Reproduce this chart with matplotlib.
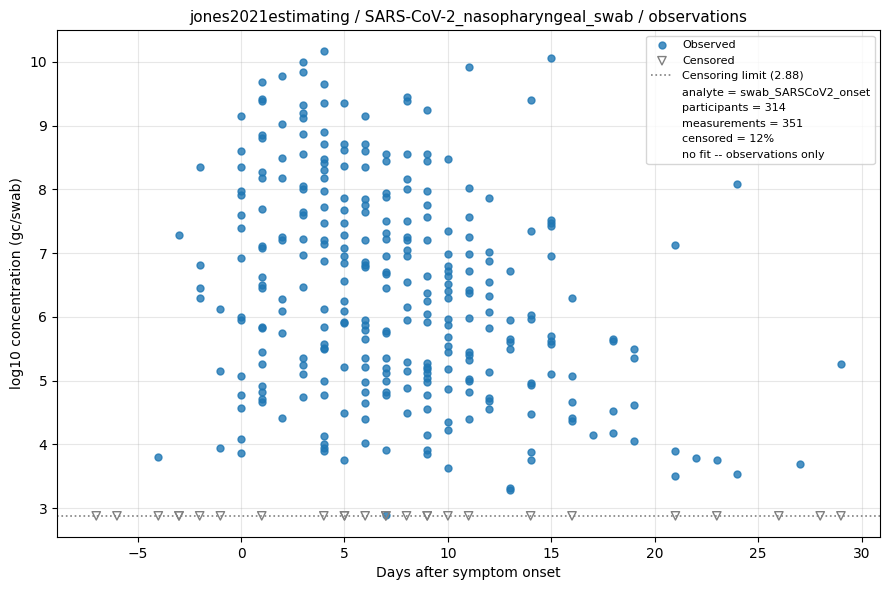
import matplotlib
matplotlib.use("Agg")
import matplotlib.pyplot as plt
from matplotlib.lines import Line2D

obs = {
 -4: [3.8], -3: [7.28], -2: [8.35, 6.82, 6.45, 6.3], -1: [6.12, 5.15, 3.95],
 0: [9.15, 8.6, 8.35, 7.98, 7.92, 7.6, 7.4, 6.92, 6.0, 5.95, 5.08, 4.78, 4.57, 4.08, 3.87],
 1: [9.68, 9.42, 9.38, 8.85, 8.8, 8.27, 8.18, 7.7, 7.12, 7.08, 6.63, 6.5, 6.45, 5.85, 5.82, 5.45, 5.27, 4.92, 4.82, 4.72, 4.67],
 2: [9.78, 9.03, 8.5, 8.18, 7.25, 7.2, 6.28, 6.1, 5.75, 4.42],
 3: [10.0, 9.85, 9.32, 9.2, 9.12, 8.87, 8.55, 8.05, 8.0, 7.65, 7.6, 7.22, 6.97, 6.47, 5.35, 5.25, 5.1, 4.75],
 4: [10.17, 9.65, 9.35, 8.9, 8.72, 8.48, 8.42, 8.3, 8.18, 7.97, 7.72, 7.48, 7.2, 7.15, 6.88, 6.12, 5.85, 5.58, 5.52, 5.5, 5.0, 4.77, 4.13, 4.0, 3.95, 3.9],
 5: [9.35, 8.72, 8.62, 8.37, 7.87, 7.68, 7.48, 7.28, 7.08, 6.95, 6.85, 6.57, 6.25, 6.1, 5.92, 5.9, 5.22, 4.5, 3.75],
 6: [9.15, 8.72, 8.6, 8.35, 7.85, 7.75, 7.65, 7.2, 6.87, 6.82, 6.78, 5.95, 5.88, 5.8, 5.65, 5.35, 5.22, 4.98, 4.82, 4.65, 4.4, 4.03],
 7: [8.55, 8.45, 7.95, 7.88, 7.5, 7.32, 7.22, 6.95, 6.7, 6.67, 6.45, 5.78, 5.75, 5.35, 5.2, 5.12, 5.0, 4.82, 4.77, 3.92, 2.9],
 8: [9.45, 9.38, 8.55, 8.17, 8.0, 7.5, 7.25, 7.2, 7.05, 6.95, 6.55, 6.15, 5.95, 5.3, 5.15, 4.88, 4.5],
 9: [9.25, 8.55, 8.45, 7.97, 7.75, 7.57, 7.2, 6.65, 6.38, 6.25, 6.05, 5.92, 5.28, 5.22, 5.18, 5.12, 5.05, 4.98, 4.78, 4.55, 4.15, 3.92, 3.85],
 10: [8.48, 7.35, 6.98, 6.8, 6.72, 6.65, 6.52, 6.4, 6.3, 5.97, 5.88, 5.68, 5.55, 5.45, 5.18, 4.87, 4.35, 4.22, 3.63],
 11: [9.92, 8.02, 7.57, 7.25, 6.98, 6.72, 6.43, 6.38, 5.98, 5.45, 5.4, 5.32, 5.02, 5.0, 4.83, 4.4],
 12: [7.87, 7.02, 6.88, 6.55, 6.33, 6.08, 5.82, 5.13, 4.73, 4.68, 4.55],
 13: [6.72, 5.95, 5.65, 5.6, 5.5, 3.32, 3.28],
 14: [9.4, 7.35, 6.03, 5.97, 4.97, 4.93, 4.48, 3.88, 3.75],
 15: [10.07, 7.52, 7.48, 7.42, 6.95, 5.7, 5.62, 5.57, 5.1],
 16: [6.3, 5.07, 4.67, 4.42, 4.37],
 17: [4.15], 18: [5.65, 5.62, 4.52, 4.18], 19: [5.5, 5.35, 4.62, 4.05],
 21: [7.13, 3.9, 3.5], 22: [3.78], 23: [3.75], 24: [8.08, 3.53], 27: [3.7], 29: [5.27],
}
cens_days = [-7, -6, -4, -3, -3, -2, -1, 1, 4, 5, 5, 6, 7, 7, 8, 9, 9, 10, 11, 14, 16, 21, 23, 26, 28, 29]
limit = 2.88

ox = [d for d, vs in obs.items() for _ in vs]
oy = [v for vs in obs.values() for v in vs]

fig, ax = plt.subplots(figsize=(8.9, 5.9), dpi=100)
fig.subplots_adjust(left=0.064, right=0.989, top=0.949, bottom=0.09)
ax.scatter(ox, oy, s=25, color="#1f77b4", alpha=0.8, label="Observed", zorder=3)
ax.scatter(cens_days, [limit]*len(cens_days), marker="v", s=36, facecolors="none",
           edgecolors="gray", linewidths=1, label="Censored", zorder=3)
ax.axhline(limit, color="gray", linestyle=":", linewidth=1.2, label="Censoring limit (2.88)")
ax.set_xlim(-8.9, 30.9)
ax.set_ylim(2.55, 10.5)
ax.grid(True, alpha=0.3)
ax.set_xlabel("Days after symptom onset")
ax.set_ylabel("log10 concentration (gc/swab)")
ax.set_title("jones2021estimating / SARS-CoV-2_nasopharyngeal_swab / observations", fontsize=11)
h, l = ax.get_legend_handles_labels()
for t in ["analyte = swab_SARSCoV2_onset", "participants = 314", "measurements = 351",
          "censored = 12%", "no fit -- observations only"]:
    h.append(Line2D([], [], linestyle="none", marker=None))
    l.append(t)
ax.legend(h, l, loc="upper right", fontsize=8)
fig.savefig("out.png")
